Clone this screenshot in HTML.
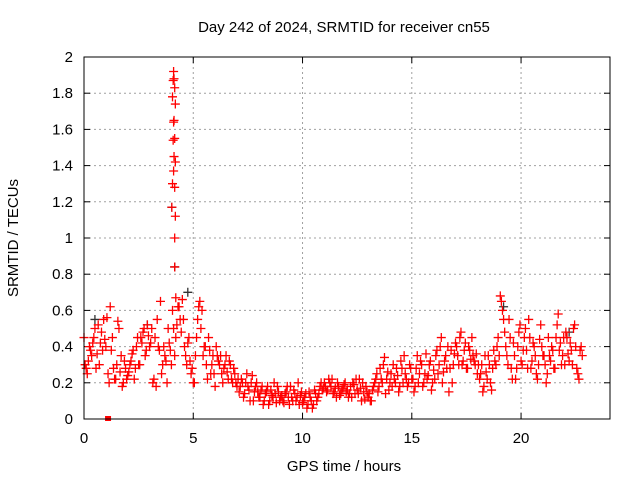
<!DOCTYPE html>
<html><head><meta charset="utf-8"><style>
html,body{margin:0;padding:0;background:#fff;}
svg{display:block;font-family:"Liberation Sans",sans-serif;}
</style></head><body>
<svg id="chart" width="640" height="480" viewBox="0 0 640 480" xmlns="http://www.w3.org/2000/svg">
<rect width="640" height="480" fill="#fff"/>
<text x="344" y="32" font-size="15" text-anchor="middle" fill="#000">Day 242 of 2024, SRMTID for receiver cn55</text>
<text transform="translate(18,238) rotate(-90)" font-size="15" text-anchor="middle" fill="#000">SRMTID / TECUs</text>
<text x="344" y="471" font-size="15" text-anchor="middle" fill="#000">GPS time / hours</text>
<g id="grid"></g>
<g id="ticks"></g>
<g id="marks"></g>
<rect x="84" y="57" width="526" height="362" fill="none" stroke="#000" stroke-width="1"/>
</svg>
<script>
const xTicks=[0,5,10,15,20];
const yTicks=[0,0.2,0.4,0.6,0.8,1,1.2,1.4,1.6,1.8,2];
const yTickLabels=["0","0.2","0.4","0.6","0.8","1","1.2","1.4","1.6","1.8","2"];
const seriesA=[0.45,
0.28,0.32,0.38,0.42,0.50,0.36,0.30,0.48,0.55,0.40,
0.25,0.62,0.45,0.22,0.30,0.50,0.35,0.20,0.28,0.24,
0.30,0.36,0.22,0.40,0.30,0.45,0.48,0.35,0.52,0.40,
0.50,0.22,0.18,0.40,0.65,0.30,0.35,0.20,0.42,0.30,
0.50,0.45,0.62,0.55,0.66,0.40,0.30,0.45,0.25,0.20,
0.35,0.55,0.65,0.60,0.40,0.30,0.45,0.25,0.35,0.18,
0.35,0.30,0.25,0.28,0.35,0.22,0.30,0.20,0.25,0.18,
0.15,0.22,0.12,0.20,0.18,0.10,0.24,0.15,0.20,0.12,
0.16,0.08,0.14,0.18,0.10,0.13,0.20,0.09,0.15,0.12,
0.10,0.14,0.18,0.08,0.12,0.16,0.10,0.20,0.13,0.09,
0.12,0.06,0.15,0.10,0.08,0.14,0.12,0.18,0.16,0.20,
0.15,0.22,0.18,0.14,0.17,0.20,0.13,0.16,0.19,0.15,
0.12,0.18,0.20,0.14,0.16,0.22,0.10,0.15,0.18,0.12,
0.10,0.16,0.20,0.25,0.18,0.22,0.30,0.14,0.26,0.20,
0.18,0.22,0.28,0.15,0.32,0.20,0.25,0.18,0.30,0.22,
0.15,0.28,0.20,0.32,0.18,0.25,0.22,0.30,0.16,0.27,
0.35,0.25,0.40,0.20,0.32,0.28,0.15,0.38,0.30,0.42,
0.35,0.45,0.30,0.38,0.28,0.40,0.33,0.35,0.30,0.25,
0.22,0.30,0.18,0.26,0.35,0.20,0.28,0.32,0.40,0.35,
0.65,0.55,0.40,0.30,0.45,0.22,0.35,0.28,0.48,0.32,
0.38,0.50,0.28,0.45,0.32,0.40,0.25,0.30,0.52,0.35,
0.30,0.25,0.35,0.40,0.28,0.45,0.58,0.42,0.35,0.30,
0.45,0.32,0.38,0.50,0.40,0.25,0.38,0.35];
const seriesB=[
0.30,0.25,0.40,0.35,0.45,0.28,0.52,0.42,0.38,0.44,
0.56,0.20,0.38,0.28,0.22,0.54,0.26,0.18,0.32,0.22,
0.26,0.32,0.38,0.28,0.45,0.30,0.42,0.50,0.38,0.46,
0.42,0.20,0.45,0.55,0.38,0.25,0.40,0.32,0.50,0.38,
0.60,0.35,0.52,0.62,0.48,0.55,0.35,0.42,0.32,0.28,
0.20,0.45,0.62,0.50,0.35,0.40,0.22,0.38,0.30,0.25,
0.40,0.32,0.35,0.20,0.30,0.26,0.32,0.22,0.28,0.20,
0.22,0.18,0.20,0.14,0.25,0.16,0.20,0.10,0.18,0.15,
0.12,0.18,0.10,0.15,0.08,0.16,0.12,0.14,0.18,0.10,
0.13,0.09,0.15,0.12,0.18,0.10,0.14,0.12,0.08,0.15,
0.10,0.14,0.08,0.12,0.06,0.16,0.10,0.14,0.20,0.17,
0.18,0.16,0.20,0.22,0.15,0.12,0.18,0.14,0.17,0.20,
0.16,0.14,0.12,0.19,0.22,0.14,0.17,0.20,0.11,0.15,
0.14,0.10,0.18,0.22,0.15,0.28,0.20,0.34,0.22,0.16,
0.25,0.30,0.20,0.24,0.18,0.28,0.35,0.22,0.20,0.28,
0.22,0.18,0.35,0.25,0.30,0.20,0.36,0.24,0.32,0.20,
0.22,0.38,0.30,0.45,0.26,0.35,0.40,0.28,0.20,0.36,
0.40,0.30,0.48,0.32,0.42,0.28,0.38,0.45,0.32,0.36,
0.30,0.25,0.15,0.35,0.22,0.30,0.16,0.38,0.30,0.45,
0.68,0.60,0.48,0.35,0.55,0.28,0.42,0.22,0.40,0.52,
0.30,0.45,0.38,0.55,0.28,0.42,0.35,0.22,0.44,0.40,
0.35,0.20,0.45,0.32,0.38,0.28,0.52,0.38,0.30,0.45,
0.48,0.36,0.42,0.30,0.52,0.28,0.22,0.40];
const spikeTimes=[4.10,4.12,4.08,4.15,4.05,4.18,4.12,4.10,4.15,4.08,4.12,4.18,4.10,4.05,4.15,4.02,4.18,4.15,4.15,4.20];
const spikeValues=[1.92,1.88,1.87,1.83,1.78,1.74,1.65,1.64,1.55,1.54,1.45,1.42,1.37,1.30,1.28,1.17,1.12,1.00,0.84,0.67];
const blackTimes=[4.02,4.15,4.75,0.5,2.9,19.2,22.2];
const blackValues=[1.17,0.84,0.70,0.55,0.52,0.62,0.48];
const NS='http://www.w3.org/2000/svg';
const X0=84,X1=610,Y0=419,Y1=57,XMAX=24.07,YMAX=2;
function sx(t){return X0+(t/XMAX)*(X1-X0);}
function sy(v){return Y0-(v/YMAX)*(Y0-Y1);}
function mk(tag,attrs,parent){const e=document.createElementNS(NS,tag);for(const k in attrs)e.setAttribute(k,attrs[k]);parent.appendChild(e);return e;}
const grid=document.getElementById('grid'),ticks=document.getElementById('ticks'),marks=document.getElementById('marks');
xTicks.forEach(function(t){
  const x=sx(t);
  if(t>0){const g=mk('line',{x1:x,y1:Y0,x2:x,y2:Y1,stroke:'#a0a0a0','stroke-dasharray':'2,3'},grid);
  
  }
  mk('line',{x1:x,y1:Y0,x2:x,y2:Y0-6,stroke:'#000'},ticks);
  mk('line',{x1:x,y1:Y1,x2:x,y2:Y1+6,stroke:'#000'},ticks);
  const l=mk('text',{x:x,y:Y0+24,'font-size':15,'text-anchor':'middle',fill:'#000'},ticks);
  l.textContent=String(t);
  
  
});
yTicks.forEach(function(v,i){
  const y=sy(v);
  if(v>0&&v<YMAX){const g=mk('line',{x1:X0,y1:y,x2:X1,y2:y,stroke:'#a0a0a0','stroke-dasharray':'2,3'},grid);
  
  }
  mk('line',{x1:X0,y1:y,x2:X0+6,y2:y,stroke:'#000'},ticks);
  mk('line',{x1:X1,y1:y,x2:X1-6,y2:y,stroke:'#000'},ticks);
  const l=mk('text',{x:X0-11,y:y+5,'font-size':15,'text-anchor':'end',fill:'#000'},ticks);
  l.textContent=yTickLabels[i];
  
  
});
function plus(t,v,color){
  const x=sx(t),y=sy(v);
  const p=mk('path',{d:'M'+(x-4.5)+' '+y+'H'+(x+4.5)+'M'+x+' '+(y-4.5)+'V'+(y+4.5),stroke:color,'stroke-width':1.3,fill:'none'},marks);
  
  
}
blackTimes.forEach(function(t,i){plus(t,blackValues[i],'#333');});
seriesA.forEach(function(v,i){plus(i*0.1,v,'#ff0000');});
seriesB.forEach(function(v,i){plus(0.05+i*0.1,v,'#ff0000');});
spikeTimes.forEach(function(t,i){plus(t,spikeValues[i],'#ff0000');});
const sq=mk('rect',{x:sx(1.1)-3,y:Y0-3,width:6,height:5,fill:'#ff0000'},marks);


</script>
</body></html>
